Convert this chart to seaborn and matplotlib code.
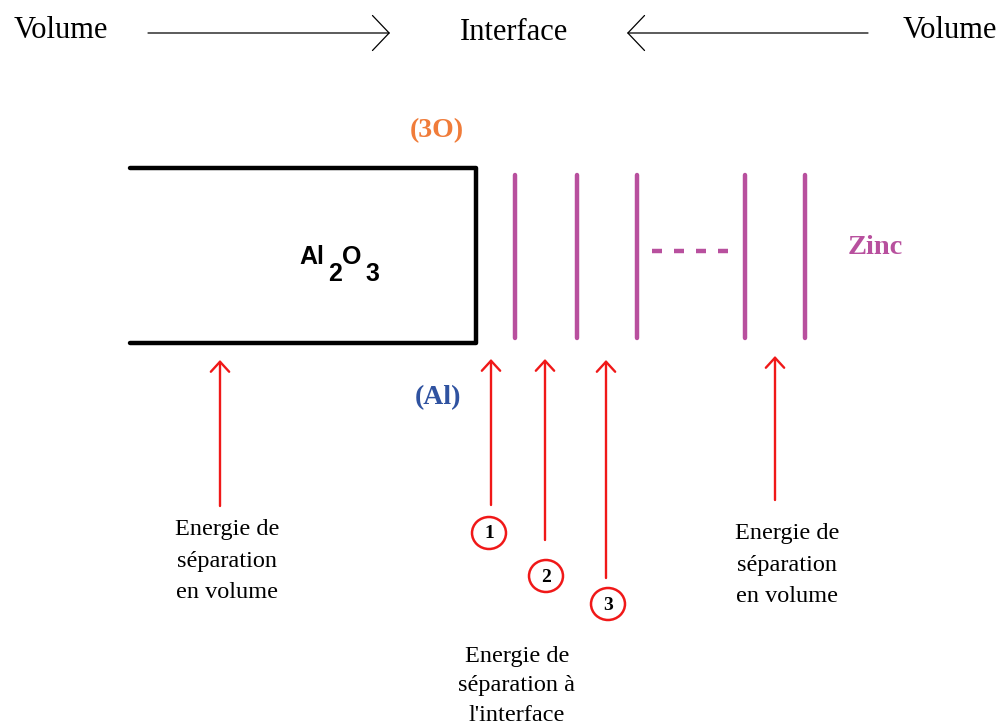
import pandas as pd
import matplotlib.pyplot as plt
import seaborn as sns
from matplotlib.patches import Ellipse

sns.set_theme(style="white")
plt.rcParams['font.family'] = ['Liberation Serif', 'DejaVu Serif']
plt.rcParams['text.color'] = 'black'

# Diagram elements (pixel coordinates of the drawing)
zinc_x = [515, 577, 637, 745, 805]
zinc_top, zinc_bottom = 175, 338
box_x = [130, 476, 476, 130]
box_y = [168, 168, 343, 343]
dash_x = [652, 728]
dash_y = 251

red_arrow_x = [220, 491, 545, 606, 775]
red_arrow_start = [506, 505, 540, 578, 500]
red_arrow_tip = [360, 359, 359, 360, 356]

circle_labels = ['1', '2', '3']
circle_x = [489, 546, 608]
circle_y = [533, 576, 604]

ZINC = '#B8509E'
RED = '#F01818'
ORANGE = '#F07C3A'
BLUE = '#2F52A0'

fig = plt.figure(figsize=(10.04, 7.26), dpi=100)
ax = fig.add_axes([0, 0, 1, 1])

# zinc planes
planes = pd.DataFrame({
    'x': [x for x in zinc_x for _ in range(2)],
    'y': [zinc_top, zinc_bottom] * len(zinc_x),
    'plane': [i for i in range(len(zinc_x)) for _ in range(2)],
})
sns.lineplot(data=planes, x='x', y='y', units='plane', estimator=None,
             sort=False, color=ZINC, lw=3.2, ax=ax, legend=False)
ax.plot(dash_x, [dash_y, dash_y], color=ZINC, lw=3.2, ls=(0, (2.25, 2.7)),
        dash_capstyle='butt')

# Al2O3 block
sns.lineplot(x=box_x, y=box_y, sort=False, estimator=None, color='black',
             lw=3.2, ax=ax)

# top header
ax.text(61, 30, 'Volume', fontsize=22, ha='center', va='center')
ax.text(950, 30, 'Volume', fontsize=22, ha='center', va='center')
ax.text(514, 33, 'Interface', fontsize=22, ha='center', va='center')
top_style = dict(arrowstyle='->,head_length=1.0,head_width=1.05', color='black',
                 lw=0.9, shrinkA=0, shrinkB=0)
ax.annotate('', xy=(390, 33), xytext=(148, 33), arrowprops=top_style)
ax.annotate('', xy=(627, 33), xytext=(868, 33), arrowprops=top_style)

# labels
ax.text(437, 131, '(3O)', fontsize=20, fontweight='bold', color=ORANGE,
        ha='center', va='center')
ax.text(438, 398, '(Al)', fontsize=20, fontweight='bold', color=BLUE,
        ha='center', va='center')
ax.text(875, 247, 'Zinc', fontsize=20.5, fontweight='bold', color=ZINC,
        ha='center', va='center')
for txt, x, y in [('Al', 299, 257), ('2', 328, 274), ('O', 342, 257), ('3', 365, 274)]:
    ax.text(x, y, txt, fontsize=18, fontweight='bold', family='Liberation Sans',
            ha='left', va='center')

# red arrows
red_style = dict(arrowstyle='->,head_length=0.6,head_width=0.55', color=RED,
                 lw=1.7, shrinkA=0, shrinkB=0)
for x, y0, y1 in zip(red_arrow_x, red_arrow_start, red_arrow_tip):
    ax.annotate('', xy=(x, y1), xytext=(x, y0), arrowprops=red_style)

# numbered circles
for lab, x, y in zip(circle_labels, circle_x, circle_y):
    ax.add_patch(Ellipse((x, y), 34, 32, fill=False, ec=RED, lw=1.8))
    ax.text(x, y + 1, lab, fontsize=14, fontweight='bold', ha='center', va='center')

# captions
ax.text(227, 561, 'Energie de\nséparation\nen volume', fontsize=17.5,
        ha='center', va='center', linespacing=1.65)
ax.text(787, 565, 'Energie de\nséparation\nen volume', fontsize=17.5,
        ha='center', va='center', linespacing=1.65)
ax.text(517, 686, "Energie de\nséparation à\nl'interface", fontsize=17.5,
        ha='center', va='center', linespacing=1.55)

ax.set_xlim(0, 1004)
ax.set_ylim(726, 0)
ax.axis('off')

fig.savefig('out.png', dpi=100)
plt.close('all')
